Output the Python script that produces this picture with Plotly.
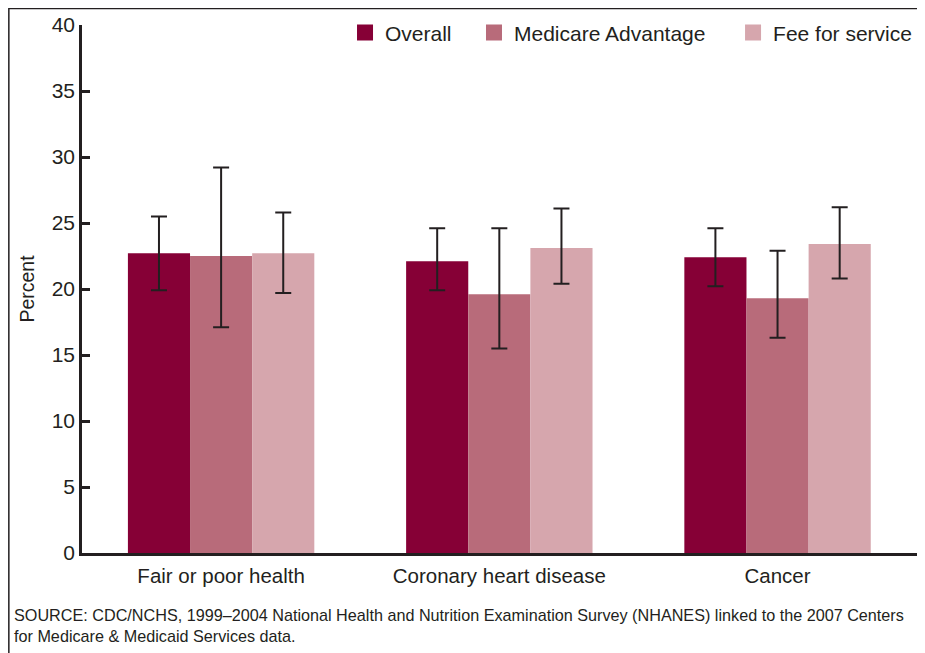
import plotly.graph_objects as go

categories = ["Fair or poor health", "Coronary heart disease", "Cancer"]
series_names = ["Overall", "Medicare Advantage", "Fee for service"]

overall = [22.7, 22.1, 22.4]
overall_hi = [25.5, 24.6, 24.6]
overall_lo = [19.9, 19.9, 20.2]

advantage = [22.5, 19.6, 19.3]
advantage_hi = [29.2, 24.6, 22.9]
advantage_lo = [17.1, 15.5, 16.3]

fee_for_service = [22.7, 23.1, 23.4]
ffs_hi = [25.8, 26.1, 26.2]
ffs_lo = [19.7, 20.4, 20.8]

colors = ["#860036", "#b86b7a", "#d6a6ad"]
source_note = ("SOURCE: CDC/NCHS, 1999\u20132004 National Health and Nutrition Examination Survey (NHANES) "
               "linked to the 2007 Centers<br>for Medicare &amp; Medicaid Services data.")

FONT = "Liberation Sans, Arial, sans-serif"

# one legend per series so each entry sits where the original puts it
legend_ids = ["legend", "legend2", "legend3"]
legend_x = [0.3120, 0.4650, 0.7723]

fig = go.Figure()
for name, vals, hi, lo, col, lid in zip(
        series_names,
        [overall, advantage, fee_for_service],
        [overall_hi, advantage_hi, ffs_hi],
        [overall_lo, advantage_lo, ffs_lo],
        colors, legend_ids):
    fig.add_trace(go.Bar(
        x=categories, y=vals, name=name, showlegend=False,
        marker=dict(color=col, line=dict(width=0)),
        error_y=dict(type="data", symmetric=False,
                     array=[h - v for h, v in zip(hi, vals)],
                     arrayminus=[v - l for v, l in zip(vals, lo)],
                     color="#231f20", thickness=2, width=8),
        hoverinfo="y",
    ))
    # legend key only: bigger square swatch than plotly's bar key
    fig.add_trace(go.Scatter(
        x=[None], y=[None], mode="markers", name=name, legend=lid, showlegend=True,
        marker=dict(symbol="square", size=16, color=col, line=dict(width=0)),
        hoverinfo="skip",
    ))

legend_style = dict(orientation="h", xanchor="left", y=0.985, yanchor="middle",
                    font=dict(size=21), bgcolor="rgba(0,0,0,0)", itemwidth=30)

# page has an 8px body margin, so the figure is 917x645
fig.update_layout(
    width=917, height=645,
    showlegend=True,
    barmode="group", bargap=0.33, bargroupgap=0,
    plot_bgcolor="white", paper_bgcolor="white",
    font=dict(family=FONT, color="#231f20", size=21),
    margin=dict(l=74, r=0, t=17, b=100),
    legend=dict(legend_style, x=legend_x[0]),
    legend2=dict(legend_style, x=legend_x[1]),
    legend3=dict(legend_style, x=legend_x[2]),
    xaxis=dict(showline=True, linecolor="#231f20", linewidth=2.5, ticks="",
               range=[-0.5, 2.53], tickfont=dict(size=20.5), ticklabelstandoff=3),
    yaxis=dict(range=[0, 40], dtick=5, showgrid=False, zeroline=False,
               showline=True, linecolor="#231f20", linewidth=2.5,
               ticks="inside", ticklen=8, tickwidth=2.5, tickcolor="#231f20",
               tickfont=dict(size=21), ticklabelstandoff=0,
               title=dict(text="Percent", font=dict(size=19.5), standoff=12)),
    shapes=[dict(type="rect", xref="paper", yref="paper",
                 x0=-74 / 843 + 0.001, x1=1.02, y0=-0.25, y1=544.6 / 528,
                 line=dict(color="#231f20", width=1.5), layer="below")],
    annotations=[dict(text=source_note, xref="paper", yref="paper",
                      x=-70 / 843, y=-0.097, xanchor="left", yanchor="top",
                      align="left", showarrow=False,
                      font=dict(size=16.2, color="#231f20"))],
)

fig.write_html("out.html")
